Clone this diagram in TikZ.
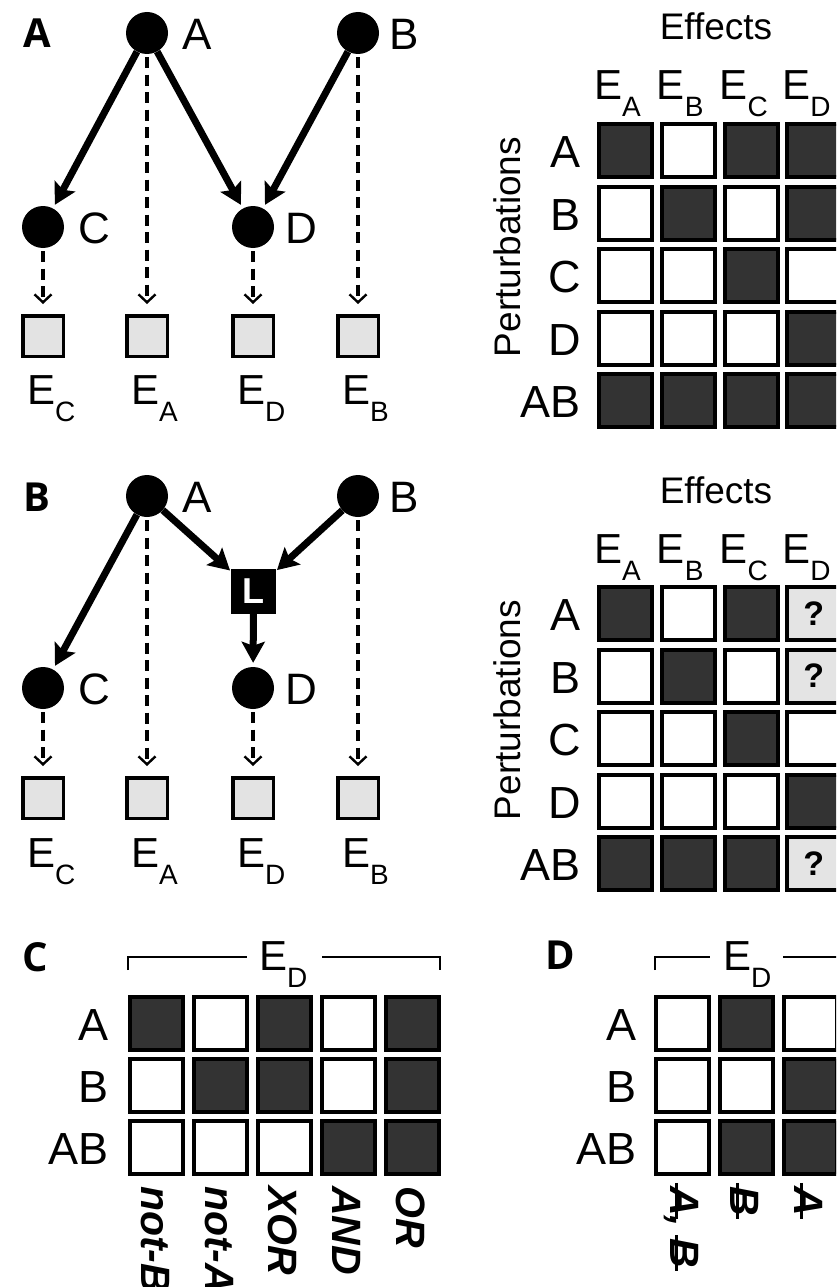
\documentclass[tikz,border=0pt]{standalone}
\usepackage{fontspec}
\setmainfont{Liberation Sans}
\newfontfamily\panelfont{Open Sans}
\usetikzlibrary{arrows.meta}
\definecolor{cdark}{HTML}{333333}
\definecolor{cqgrey}{HTML}{E4E4E4}
\definecolor{eboxgrey}{HTML}{E3E3E3}
\newcommand{\nlf}{\fontsize{44}{48}\selectfont}
\newcommand{\rlf}{\fontsize{45}{48}\selectfont}
\newcommand{\hdf}{\fontsize{37}{40}\selectfont}
\newcommand{\Esub}[1]{\fontsize{42}{44}\selectfont E\raisebox{-17pt}{\fontsize{28}{30}\selectfont #1}}
\newcommand{\strk}[1]{\setbox0\hbox{#1}\rlap{\kern-0.08em\rule[0.12em]{\dimexpr\wd0+0.16em\relax}{0.08em}}\box0}
\def\txtd{}\def\txtw{}\def\txtq{?}
\tikzset{
 gn/.style={circle, fill=black, minimum size=42pt, inner sep=0pt},
 eb/.style={draw=black, line width=3.5pt, fill=eboxgrey, minimum size=40.5pt, inner sep=0pt},
 lbox/.style={fill=black, minimum size=45pt, inner sep=0pt, text=white, font=\bfseries\fontsize{36}{36}\selectfont},
 nl/.style={inner sep=0pt, font=\nlf},
 plab/.style={inner sep=0pt, font=\panelfont\bfseries\fontsize{40}{40}\selectfont},
 sarr/.style={line width=7pt, -{Stealth[length=21pt,width=23pt,inset=4pt]}, shorten >=4pt},
 darr/.style={line width=3.3pt, dash pattern=on 11pt off 6.5pt, -{Straight Barb[length=8pt,width=17pt,line width=2.4pt]}, shorten >=10pt, shorten <=3pt},
 cellw/.style={draw=black, line width=4pt, fill=white, minimum size=53pt, inner sep=0pt},
 celld/.style={cellw, fill=cdark},
 cellq/.style={cellw, fill=cqgrey, font=\bfseries\fontsize{34}{34}\selectfont},
 elab/.style={anchor=base west, inner sep=0pt},
 rl/.style={anchor=base east, inner sep=0pt, font=\rlf},
 hd/.style={inner sep=0pt, font=\hdf},
 cl/.style={rotate=-90, anchor=west, inner sep=0pt, font=\bfseries\itshape\fontsize{41}{42}\selectfont},
 brk/.style={line width=2pt},
}
\begin{document}
\begin{tikzpicture}[x=1pt,y=-1pt]
\path[use as bounding box] (0,0) rectangle (836,1287);
\clip (0,0) rectangle (836,1287);

% ---------------- Panel A graph ----------------
\node[plab] (pA) at (37,33) {A};
\node[gn] (a1) at (147,33) {};
\node[gn] (b1) at (358,33) {};
\node[gn] (c1) at (43,227) {};
\node[gn] (d1) at (253,227) {};
\node[nl] (ta1) at (197,34) {A};
\node[nl] (tb1) at (404,34) {B};
\node[nl] (tc1) at (94,228) {C};
\node[nl] (td1) at (301,228) {D};
\node[eb] (ec1) at (43,336) {};
\node[eb] (ea1) at (147,336) {};
\node[eb] (ed1) at (253,336) {};
\node[eb] (ebb1) at (358,336) {};
\node[elab] (lec1) at (27,404) {\Esub{C}};
\node[elab] (lea1) at (131,404) {\Esub{A}};
\node[elab] (led1) at (237,404) {\Esub{D}};
\node[elab] (leb1) at (342,404) {\Esub{B}};
\draw[sarr] (a1) -- (c1);
\draw[sarr] (a1) -- (d1);
\draw[sarr] (b1) -- (d1);
\draw[darr] (a1) -- (ea1);
\draw[darr] (b1) -- (ebb1);
\draw[darr] (c1) -- (ec1);
\draw[darr] (d1) -- (ed1);

% ---------------- Panel B graph ----------------
\node[plab] (pB) at (37,497) {B};
\node[gn] (a2) at (147,496) {};
\node[gn] (b2) at (358,496) {};
\node[gn] (c2) at (43,688) {};
\node[gn] (d2) at (253,688) {};
\node[lbox] (l2) at (253.5,591.5) {L};
\node[nl] (ta2) at (197,497) {A};
\node[nl] (tb2) at (404,497) {B};
\node[nl] (tc2) at (94,689) {C};
\node[nl] (td2) at (301,689) {D};
\node[eb] (ec2) at (43,798) {};
\node[eb] (ea2) at (147,798) {};
\node[eb] (ed2) at (253,798) {};
\node[eb] (ebb2) at (358,798) {};
\node[elab] (lec2) at (27,867) {\Esub{C}};
\node[elab] (lea2) at (131,867) {\Esub{A}};
\node[elab] (led2) at (237,867) {\Esub{D}};
\node[elab] (leb2) at (342,867) {\Esub{B}};
\draw[sarr] (a2) -- (c2);
\draw[sarr, shorten >=1pt] (a2) -- (l2);
\draw[sarr, shorten >=1pt] (b2) -- (l2);
\draw[sarr] (l2) -- (d2);
\draw[darr] (a2) -- (ea2);
\draw[darr] (b2) -- (ebb2);
\draw[darr] (c2) -- (ec2);
\draw[darr] (d2) -- (ed2);

% ---------------- Matrix panel A ----------------
\node[hd, anchor=base] (eff1) at (716,40) {Effects};
\node[hd, rotate=90] (pert1) at (507,247) {Perturbations};
\foreach \c/\s in {0/A,1/B,2/C,3/D}
  \node[elab] (h1\s) at (594+62.7*\c,100) {\Esub{\s}};
\foreach \r/\lab/\vals in {0/A/{d,w,d,d},1/B/{w,d,w,d},2/C/{w,w,d,w},3/D/{w,w,w,d},4/AB/{d,d,d,d}} {
  \node[rl] (r1-\r) at (581,167.5+62.6*\r) {\lab};
  \foreach \v [count=\c from 0] in \vals
    \node[cell\v] (m1-\r-\c) at (625.7+62.7*\c,150.5+62.6*\r) {\csname txt\v\endcsname};
}

% ---------------- Matrix panel B ----------------
\node[hd, anchor=base] (eff2) at (716,503) {Effects};
\node[hd, rotate=90] (pert2) at (507,710) {Perturbations};
\foreach \c/\s in {0/A,1/B,2/C,3/D}
  \node[elab] (h2\s) at (594+62.7*\c,563) {\Esub{\s}};
\foreach \r/\lab/\vals in {0/A/{d,w,d,q},1/B/{w,d,w,q},2/C/{w,w,d,w},3/D/{w,w,w,d},4/AB/{d,d,d,q}} {
  \node[rl] (r2-\r) at (581,630.5+62.6*\r) {\lab};
  \foreach \v [count=\c from 0] in \vals
    \node[cell\v] (m2-\r-\c) at (625.7+62.7*\c,613.5+62.6*\r) {\csname txt\v\endcsname};
}

% ---------------- Panel C ----------------
\node[plab] (pC) at (35,957) {C};
\draw[brk] (128,970) -- (128,957) -- (247,957);
\draw[brk] (322,957) -- (440,957) -- (440,970);
\node[elab] (hC) at (259,970) {\Esub{D}};
\foreach \r/\lab/\vals in {0/A/{d,w,d,w,d},1/B/{w,d,d,w,d},2/AB/{w,w,w,d,d}} {
  \node[rl] (r3-\r) at (109,1040.5+62.2*\r) {\lab};
  \foreach \v [count=\c from 0] in \vals
    \node[cell\v] (m3-\r-\c) at (156.5+64*\c,1023.5+62.2*\r) {};
}
\foreach \c/\t in {0/not-B,1/not-A,2/XOR,3/AND,4/OR}
  \node[cl] (k3-\c) at (155+64*\c,1186) {\t};

% ---------------- Panel D ----------------
\node[plab] (pD) at (560,955) {D};
\draw[brk] (655,970) -- (655,957) -- (710,957);
\draw[brk] (783,957) -- (845,957);
\node[elab] (hD) at (723,970) {\Esub{D}};
\foreach \r/\lab/\vals in {0/A/{w,d,w},1/B/{w,w,d},2/AB/{w,d,d}} {
  \node[rl] (r4-\r) at (637,1040.5+62.2*\r) {\lab};
  \foreach \v [count=\c from 0] in \vals
    \node[cell\v] (m4-\r-\c) at (682.5+64*\c,1023.5+62.2*\r) {};
}
\node[cl] (k4-0) at (681,1186) {\strk{A}, \strk{B}};
\node[cl] (k4-1) at (745,1186) {\strk{B}};
\node[cl] (k4-2) at (809,1186) {\strk{A}};
\end{tikzpicture}
\end{document}
